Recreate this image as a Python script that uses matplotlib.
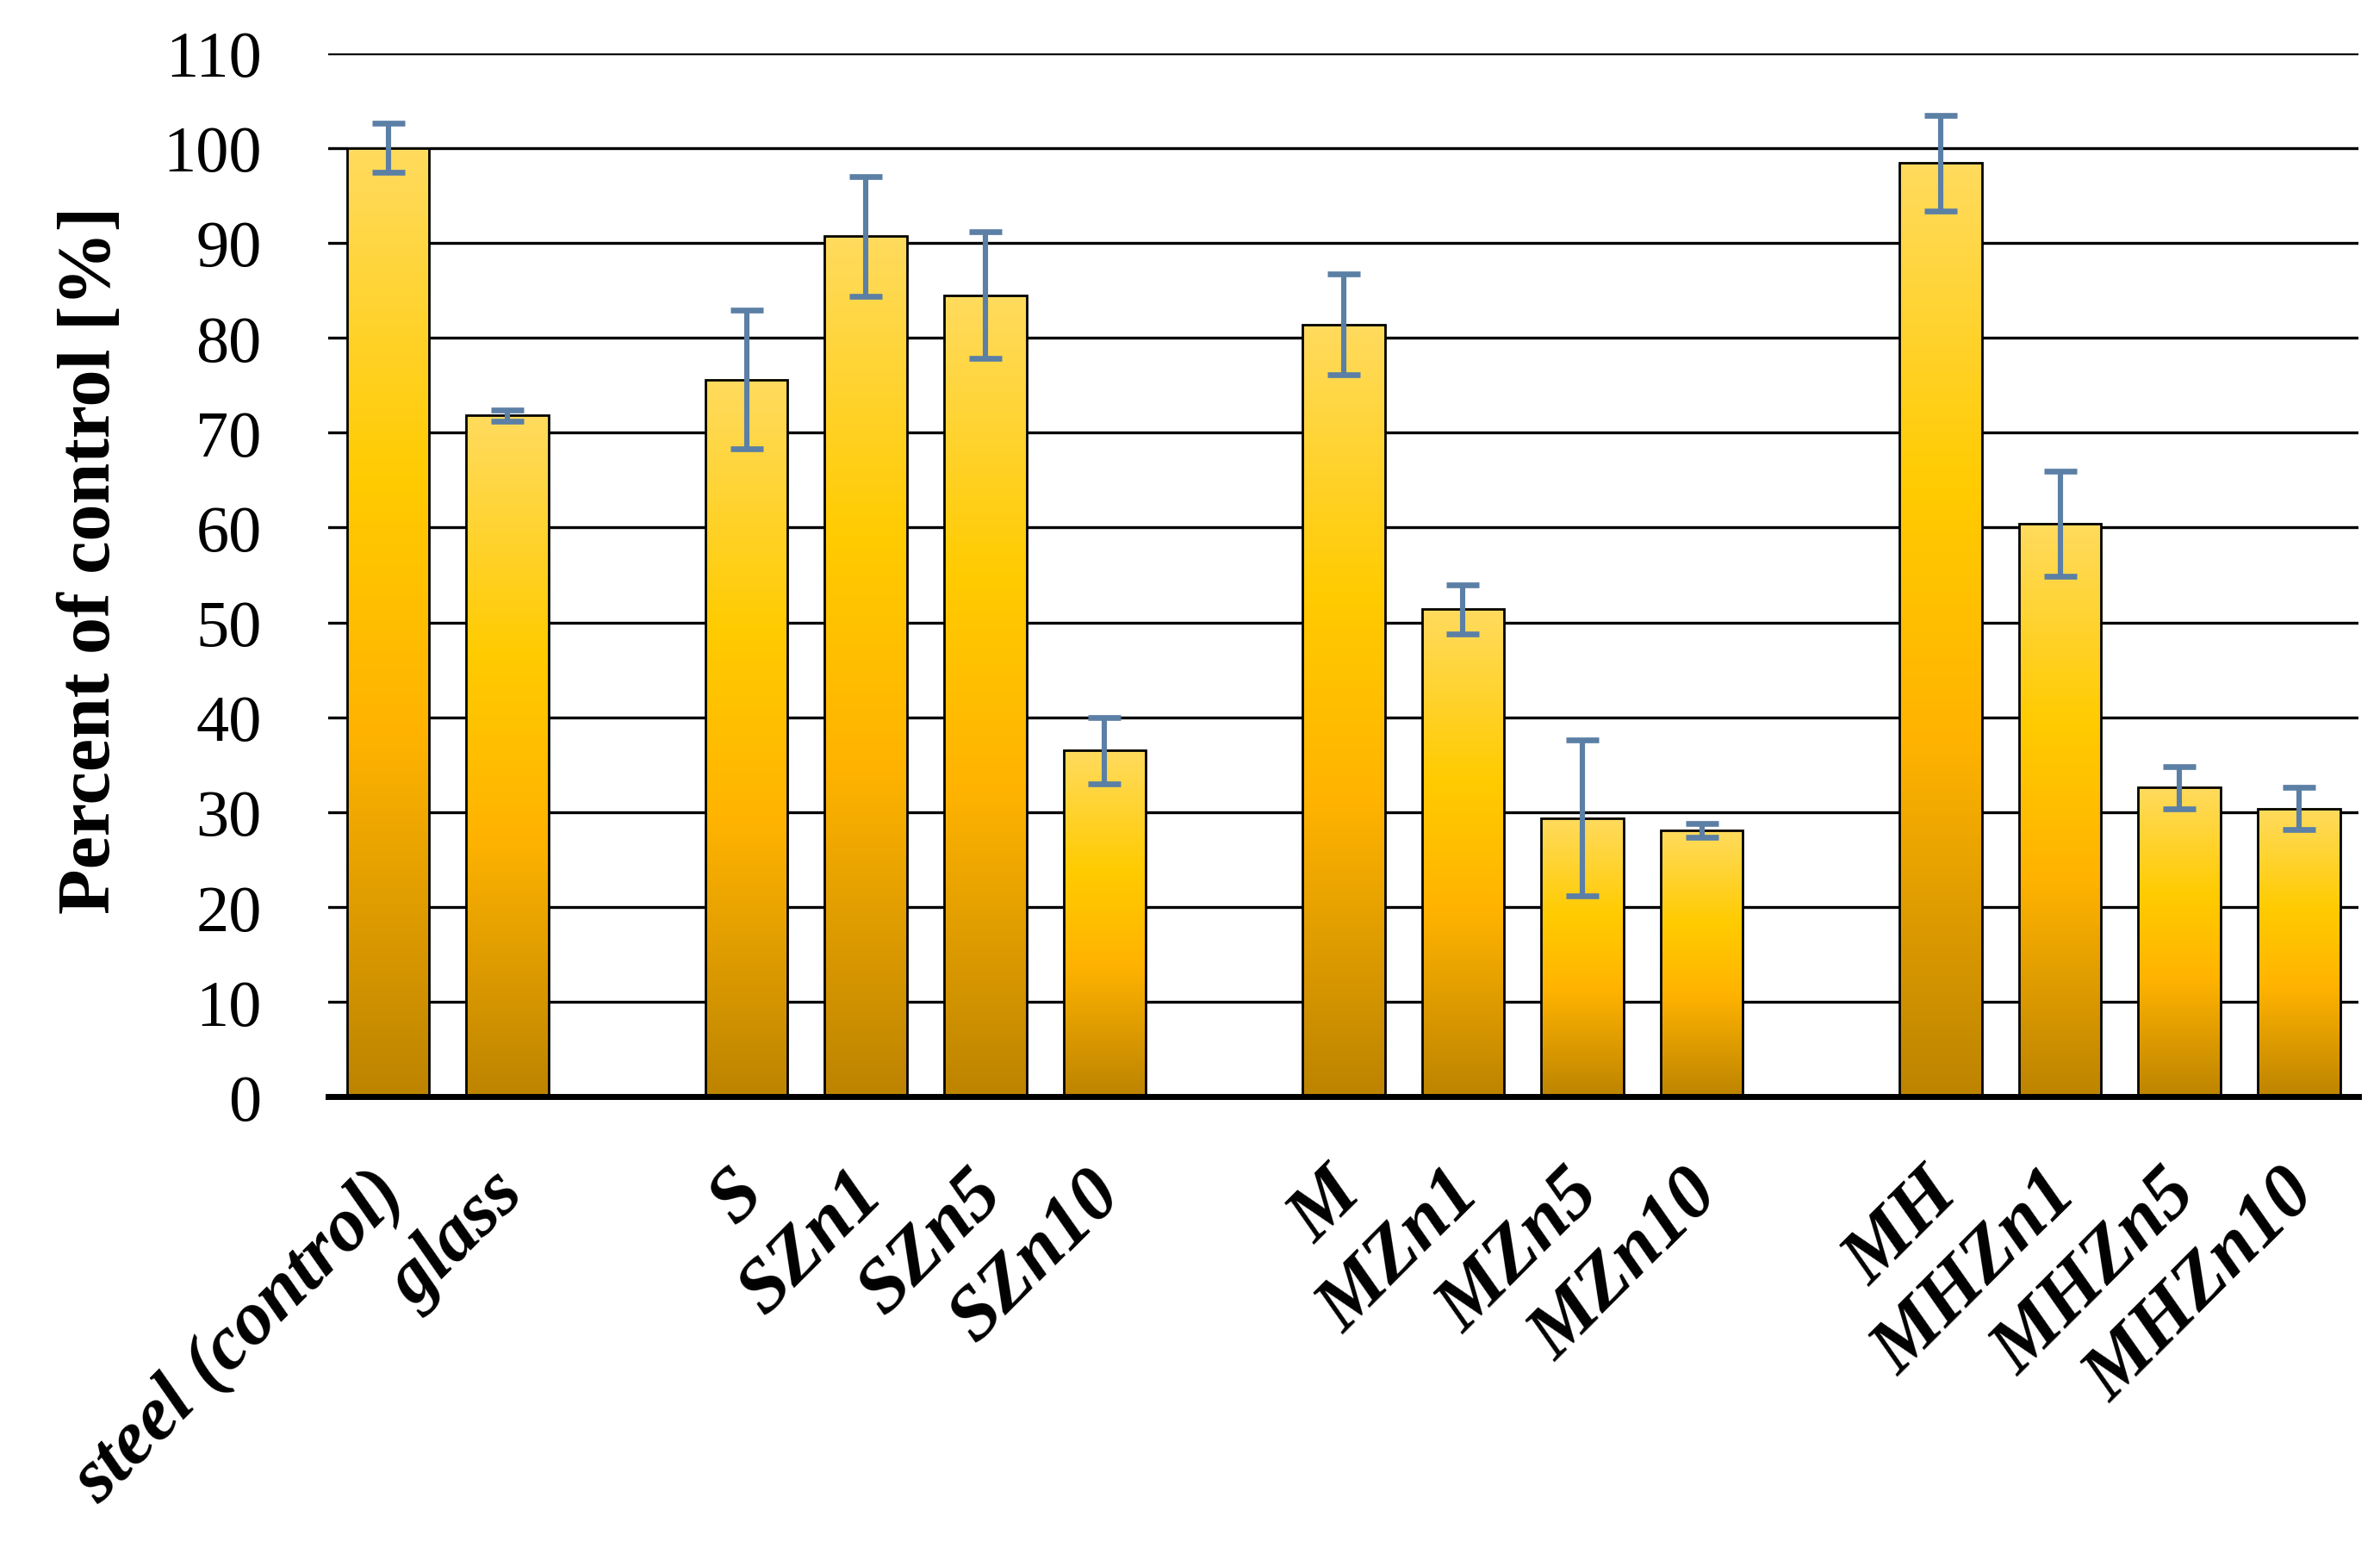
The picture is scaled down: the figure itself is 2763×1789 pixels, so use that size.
import matplotlib
matplotlib.use('Agg')
import matplotlib.pyplot as plt
import matplotlib.transforms as mtransforms
import numpy as np
from matplotlib.colors import LinearSegmentedColormap

# data (empty strings are the gaps between groups)
labels = ['steel (control)', 'glass', '', 'S', 'SZn1', 'SZn5', 'SZn10', '',
          'M', 'MZn1', 'MZn5', 'MZn10', '', 'MH', 'MHZn1', 'MHZn5', 'MHZn10']
values = [100.0, 71.8, None, 75.6, 90.7, 84.5, 36.5, None,
          81.4, 51.4, 29.4, 28.1, None, 98.4, 60.4, 32.6, 30.4]
errors = [2.6, 0.6, None, 7.3, 6.3, 6.7, 3.5, None,
          5.3, 2.6, 8.2, 0.7, None, 5.0, 5.5, 2.2, 2.2]

plt.rcParams['font.family'] = ['Liberation Serif', 'DejaVu Serif']

# per-bar vertical gradient, bottom -> top
grad = LinearSegmentedColormap.from_list('bar', [
    (0.0, '#bd8400'), (0.38, '#ffb300'), (0.65, '#ffcb00'), (1.0, '#ffdb5e')])
img = np.linspace(0, 1, 256).reshape(-1, 1)

fig = plt.figure(figsize=(13.815, 8.95), dpi=200)
ax = fig.add_axes([0.138, 0.288, 0.853, 0.677])

x = np.arange(len(labels))
idx = [i for i, v in enumerate(values) if v is not None]
v = np.array([values[i] for i in idx])
e = np.array([errors[i] for i in idx])
w = 0.69

rects = ax.bar(x[idx], v, w, facecolor='none', edgecolor='black', linewidth=1.0, zorder=3)
for r in rects:
    ax.imshow(img, cmap=grad, origin='lower', aspect='auto', zorder=2,
              extent=[r.get_x(), r.get_x() + r.get_width(), 0, r.get_height()])

ax.errorbar(x[idx], v, yerr=e, fmt='none', ecolor='#5b7fa5', elinewidth=2.2,
            capsize=7, capthick=2.4, zorder=4)

ax.set_xlim(-0.5, len(labels) - 0.5)
ax.set_ylim(0, 110)
ax.set_yticks(np.arange(0, 111, 10))
ax.yaxis.grid(True, color='black', linewidth=1.2)
ax.set_axisbelow(True)
for s in ['left', 'right', 'top']:
    ax.spines[s].set_visible(False)
ax.spines['bottom'].set_linewidth(2.5)
ax.spines['bottom'].set_zorder(5)

ax.tick_params(axis='both', length=0)
ax.tick_params(axis='y', labelsize=27.5, pad=28)
ax.set_xticks(x)
ax.set_xticklabels(labels, rotation=45, ha='right', rotation_mode='anchor',
                   fontsize=32, fontweight='bold', fontstyle='italic')
ax.tick_params(axis='x', pad=16)
# nudge the rotated labels down-left, like the original layout
shift = mtransforms.ScaledTranslation(-0.11, -0.13, fig.dpi_scale_trans)
for lab in ax.get_xticklabels():
    lab.set_transform(lab.get_transform() + shift)

ax.set_ylabel('Percent of control [%]', fontsize=31, fontweight='bold')
ax.yaxis.set_label_coords(-0.1, 0.515)

fig.savefig('out.png', dpi=200)
